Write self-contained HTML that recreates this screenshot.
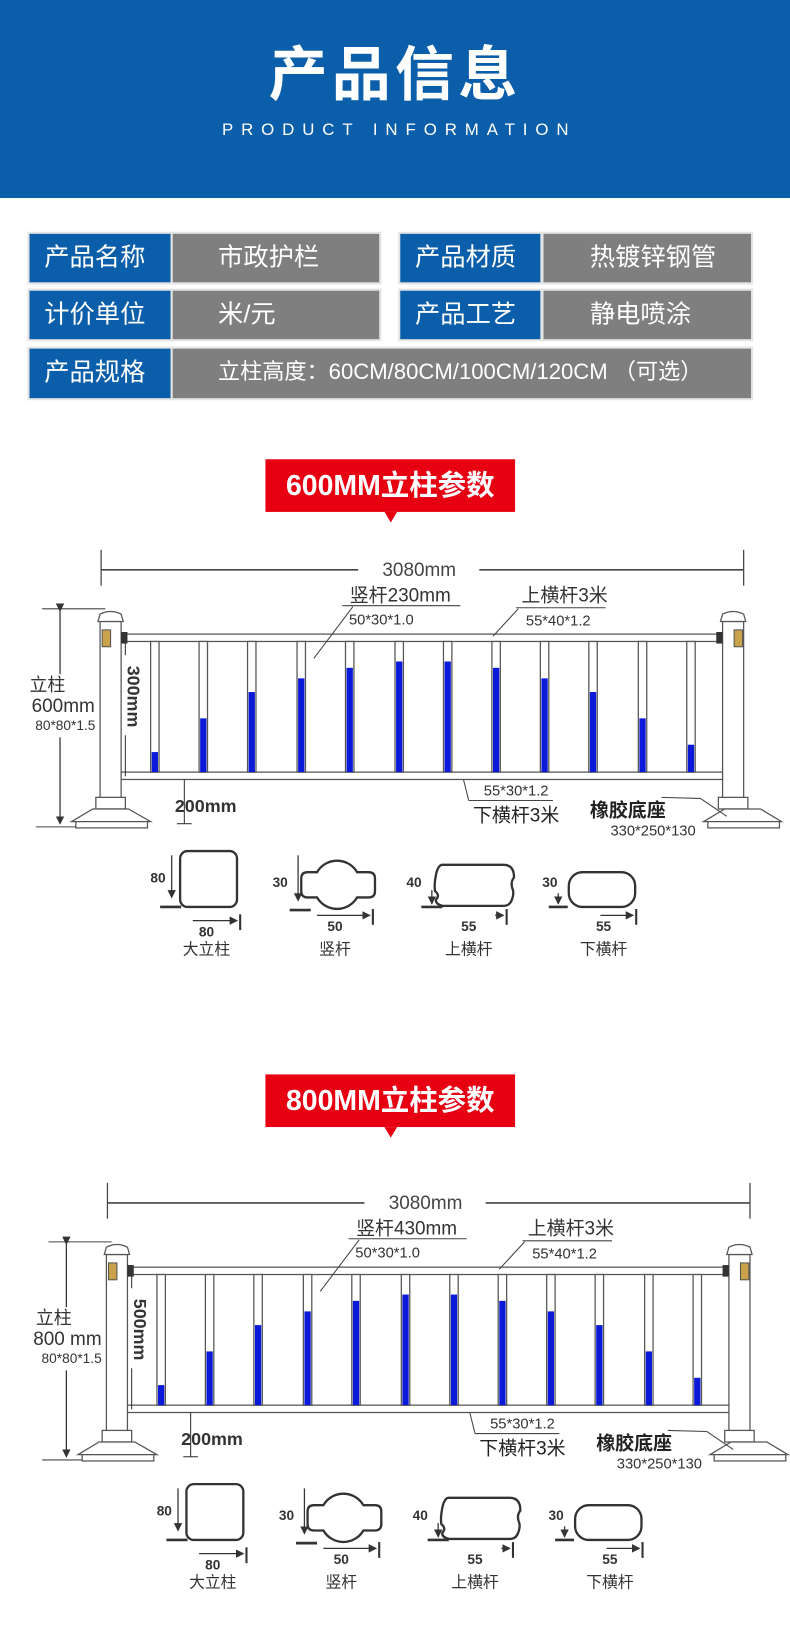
<!DOCTYPE html>
<html><head><meta charset="utf-8"><style>
html,body{margin:0;padding:0;background:#fff;}
body{width:790px;height:1651px;overflow:hidden;position:relative;}
#w{position:absolute;left:0;top:0;width:750px;height:1568px;transform:scale(1.05333);transform-origin:0 0;font-family:"Liberation Sans","Noto Sans CJK SC",sans-serif;}
.hdr{position:absolute;left:0;top:0;width:750px;height:188px;background:#0b5ea9;color:#fff;text-align:center;}
.t1{position:absolute;left:0;right:0;top:36px;font-size:56px;font-weight:bold;letter-spacing:4px;line-height:70px;}
.t2{position:absolute;left:0;right:0;top:114px;font-size:16px;letter-spacing:7.5px;line-height:20px;padding-left:8px;}
.c{position:absolute;color:#fff;font-size:24px;line-height:46px;box-shadow:0 0 0 2px #e4e4e4;}
.b{background:#0b5ea9;padding-left:14px;box-sizing:border-box;}
.g{background:#7f7f7f;box-sizing:border-box;}
.ban{position:absolute;background:#e60012;color:#fff;font-weight:bold;font-size:27px;text-align:center;line-height:50px;}
.ban:after{content:"";position:absolute;left:50%;margin-left:-6px;bottom:-10px;border-left:6px solid transparent;border-right:6px solid transparent;border-top:10px solid #e60012;}
svg{position:absolute;left:0;top:0;}
</style></head><body><div id="w">
<div class="hdr"><div class="t1">产品信息</div><div class="t2">PRODUCT INFORMATION</div></div>

<div class="c b" style="left:28px;top:222px;width:134px;height:46px;">产品名称</div>
<div class="c g" style="left:164px;top:222px;width:196px;height:46px;padding-left:43px;">市政护栏</div>
<div class="c b" style="left:380px;top:222px;width:133px;height:46px;">产品材质</div>
<div class="c g" style="left:516px;top:222px;width:197px;height:46px;padding-left:44px;">热镀锌钢管</div>
<div class="c b" style="left:28px;top:276px;width:134px;height:46px;">计价单位</div>
<div class="c g" style="left:164px;top:276px;width:196px;height:46px;padding-left:43px;">米/元</div>
<div class="c b" style="left:380px;top:276px;width:133px;height:46px;">产品工艺</div>
<div class="c g" style="left:516px;top:276px;width:197px;height:46px;padding-left:44px;">静电喷涂</div>
<div class="c b" style="left:28px;top:331px;width:134px;height:47px;">产品规格</div>
<div class="c g" style="left:164px;top:331px;width:549px;height:47px;padding-left:43px;font-size:21px;">立柱高度：60CM/80CM/100CM/120CM （可选）</div>

<div class="ban" style="left:252px;top:436px;width:237px;height:50px;">600MM立柱参数</div>
<div class="ban" style="left:252px;top:1020px;width:237px;height:50px;">800MM立柱参数</div>

<svg width="750" height="1568" viewBox="0 0 750 1568">
<defs>
<marker id="ar" markerWidth="8" markerHeight="8" refX="7" refY="4" orient="auto" markerUnits="userSpaceOnUse"><path d="M0,0 L8,4 L0,8z" fill="#333"/></marker>
<g id="fence">
 <line x1="96" y1="522" x2="96" y2="556" stroke="#444" stroke-width="1.2"/>
 <line x1="706" y1="522" x2="706" y2="556" stroke="#444" stroke-width="1.2"/>
 <line x1="96" y1="541" x2="340" y2="541" stroke="#444" stroke-width="1.5"/>
 <line x1="455" y1="541" x2="706" y2="541" stroke="#444" stroke-width="1.5"/>
 <text x="398" y="547" font-size="18" fill="#444" text-anchor="middle">3080mm</text>
 <line x1="40" y1="578" x2="100" y2="578" stroke="#444"/>
 <line x1="34" y1="785" x2="80" y2="785" stroke="#444"/>
 <line x1="57" y1="580" x2="57" y2="640" stroke="#333" stroke-width="1.2" marker-start="url(#ar)"/>
 <line x1="57" y1="700" x2="57" y2="782" stroke="#333" stroke-width="1.2" marker-end="url(#ar)"/>
 <rect x="120" y="602" width="568" height="7" fill="#fff" stroke="#555" stroke-width="1.2"/>
 <rect x="113" y="733" width="578" height="7" fill="#fff" stroke="#555" stroke-width="1.2"/>
 <g stroke="#555" stroke-width="1.2">
 <rect x="143" y="609" width="8" height="124" fill="#fff"/><rect x="189" y="609" width="8" height="124" fill="#fff"/>
 <rect x="235" y="609" width="8" height="124" fill="#fff"/><rect x="282" y="609" width="8" height="124" fill="#fff"/>
 <rect x="328" y="609" width="8" height="124" fill="#fff"/><rect x="375" y="609" width="8" height="124" fill="#fff"/>
 <rect x="421" y="609" width="8" height="124" fill="#fff"/><rect x="467" y="609" width="8" height="124" fill="#fff"/>
 <rect x="513" y="609" width="8" height="124" fill="#fff"/><rect x="559" y="609" width="8" height="124" fill="#fff"/>
 <rect x="606" y="609" width="8" height="124" fill="#fff"/><rect x="652" y="609" width="8" height="124" fill="#fff"/>
 </g>
 <g fill="#0a1ad8">
 <rect x="144" y="714" width="6" height="19"/><rect x="190" y="682" width="6" height="51"/>
 <rect x="236" y="657" width="6" height="76"/><rect x="283" y="644" width="6" height="89"/>
 <rect x="329" y="634" width="6" height="99"/><rect x="376" y="628" width="6" height="105"/>
 <rect x="422" y="628" width="6" height="105"/><rect x="468" y="634" width="6" height="99"/>
 <rect x="514" y="644" width="6" height="89"/><rect x="560" y="657" width="6" height="76"/>
 <rect x="607" y="682" width="6" height="51"/><rect x="653" y="707" width="6" height="26"/>
 </g>
 <g stroke="#555" stroke-width="1.2" fill="#fff">
 <rect x="95" y="590" width="20" height="168"/>
 <path d="M93,590 L95,583 Q105,578 115,583 L117,590z"/>
 <rect x="91" y="757" width="28" height="11"/>
 <path d="M68,780 L88,768 L122,768 L143,780z"/>
 <rect x="72" y="780" width="68" height="6"/>
 <rect x="686" y="590" width="20" height="168"/>
 <path d="M684,590 L686,583 Q696,578 706,583 L708,590z"/>
 <rect x="682" y="757" width="28" height="11"/>
 <path d="M668,780 L688,768 L722,768 L742,780z"/>
 <rect x="672" y="780" width="68" height="6"/>
 </g>
 <rect x="97" y="598" width="8" height="16" fill="#c9a24a" stroke="#555"/>
 <rect x="697" y="598" width="8" height="16" fill="#c9a24a" stroke="#555"/>
 <rect x="115" y="600" width="6" height="11" fill="#333"/>
 <rect x="680" y="600" width="6" height="11" fill="#333"/>
 <line x1="119" y1="610" x2="119" y2="622" stroke="#333"/>
 <line x1="119" y1="698" x2="119" y2="737" stroke="#333"/>
 <line x1="175" y1="740" x2="175" y2="782" stroke="#333"/>
 <line x1="168" y1="782" x2="182" y2="782" stroke="#333"/>
 <text x="166" y="771" font-size="17" font-weight="bold" fill="#333">200mm</text>
 <line x1="325" y1="575" x2="437" y2="575" stroke="#444"/>
 <line x1="335" y1="576" x2="298" y2="625" stroke="#444"/>
 <text x="362" y="593" font-size="14" fill="#333" text-anchor="middle">50*30*1.0</text>
 <text x="536" y="571" font-size="18" fill="#333" text-anchor="middle">上横杆3米</text>
 <line x1="490" y1="577" x2="575" y2="577" stroke="#444"/>
 <line x1="492" y1="578" x2="468" y2="604" stroke="#444"/>
 <text x="530" y="594" font-size="14" fill="#333" text-anchor="middle">55*40*1.2</text>
 <line x1="440" y1="740" x2="445" y2="760" stroke="#444"/>
 <line x1="445" y1="760" x2="525" y2="760" stroke="#444"/>
 <text x="490" y="755" font-size="14" fill="#333" text-anchor="middle">55*30*1.2</text>
 <text x="490" y="780" font-size="18" fill="#222" text-anchor="middle">下横杆3米</text>
 <text x="596" y="775" font-size="18" font-weight="bold" fill="#222" text-anchor="middle">橡胶底座</text>
 <text x="620" y="793" font-size="14" fill="#333" text-anchor="middle">330*250*130</text>
 <line x1="628" y1="757" x2="665" y2="758" stroke="#444"/>
 <line x1="665" y1="758" x2="690" y2="775" stroke="#444"/>
 <g stroke="#333" stroke-width="2.2" fill="none">
 <rect x="171" y="808" width="54" height="53" rx="7"/>
 <path d="M292,828 L301,828 A22,22 0 0 1 339,828 L350,828 Q356,828 356,834 L356,846 Q356,852 350,852 L339,852 A22,22 0 0 1 301,852 L292,852 Q286,852 286,846 L286,834 Q286,828 292,828z"/>
 <path d="M420,821 L478,821 Q488,821 488,833 Q484,838 487,845 Q488,849 486,854 Q484,860 478,860 L420,860 Q413,858 414,854 Q418,850 413,846 Q412,840 414,830 Q416,821 420,821z"/>
 <rect x="540" y="828" width="63" height="33" rx="13"/>
 </g>
 <g stroke="#333" stroke-width="1.2">
 <line x1="163" y1="812" x2="163" y2="852" marker-end="url(#ar)"/>
 <line x1="152" y1="861" x2="172" y2="861" stroke-width="2.5"/>
 <line x1="183" y1="874" x2="225" y2="874" marker-end="url(#ar)"/>
 <line x1="228" y1="868" x2="228" y2="883" stroke-width="2"/>
 <line x1="283" y1="812" x2="283" y2="855" marker-end="url(#ar)"/>
 <line x1="275" y1="864" x2="295" y2="864" stroke-width="2.5"/>
 <line x1="301" y1="869" x2="351" y2="869" marker-end="url(#ar)"/>
 <line x1="354" y1="863" x2="354" y2="878" stroke-width="2"/>
 <line x1="410" y1="845" x2="410" y2="858" marker-end="url(#ar)"/>
 <line x1="400" y1="861" x2="420" y2="861" stroke-width="2.5"/>
 <line x1="470" y1="869" x2="478" y2="869" marker-end="url(#ar)"/>
 <line x1="481" y1="863" x2="481" y2="878" stroke-width="2"/>
 <line x1="530" y1="848" x2="530" y2="858" marker-end="url(#ar)"/>
 <line x1="521" y1="861" x2="539" y2="861" stroke-width="2.5"/>
 <line x1="570" y1="869" x2="601" y2="869" marker-end="url(#ar)"/>
 <line x1="604" y1="863" x2="604" y2="878" stroke-width="2"/>
 </g>
 <g font-size="13" font-weight="bold" fill="#333" text-anchor="middle">
 <text x="150" y="838">80</text><text x="196" y="889">80</text>
 <text x="266" y="842">30</text><text x="318" y="884">50</text>
 <text x="393" y="842">40</text><text x="445" y="884">55</text>
 <text x="522" y="842">30</text><text x="573" y="884">55</text>
 </g>
 <g font-size="15" fill="#333" text-anchor="middle">
 <text x="196" y="906">大立柱</text><text x="318" y="906">竖杆</text>
 <text x="445" y="906">上横杆</text><text x="573" y="906">下横杆</text>
 </g>
</g>
</defs>

<use href="#fence"/>
<text x="380" y="571" font-size="18" fill="#333" text-anchor="middle">竖杆230mm</text>
<text x="45" y="656" font-size="17" fill="#333" text-anchor="middle">立柱</text>
<text x="60" y="676" font-size="18" fill="#333" text-anchor="middle">600mm</text>
<text x="62" y="693" font-size="13" fill="#333" text-anchor="middle">80*80*1.5</text>
<text transform="translate(121,632) rotate(90)" font-size="17" font-weight="bold" fill="#333">300mm</text>

<g transform="translate(6,601)"><use href="#fence"/></g>
<text x="386" y="1172" font-size="18" fill="#333" text-anchor="middle">竖杆430mm</text>
<text x="51" y="1257" font-size="17" fill="#333" text-anchor="middle">立柱</text>
<text x="64" y="1277" font-size="18" fill="#333" text-anchor="middle">800 mm</text>
<text x="68" y="1294" font-size="13" fill="#333" text-anchor="middle">80*80*1.5</text>
<text transform="translate(127,1233) rotate(90)" font-size="17" font-weight="bold" fill="#333">500mm</text>
</svg>
</div></body></html>
